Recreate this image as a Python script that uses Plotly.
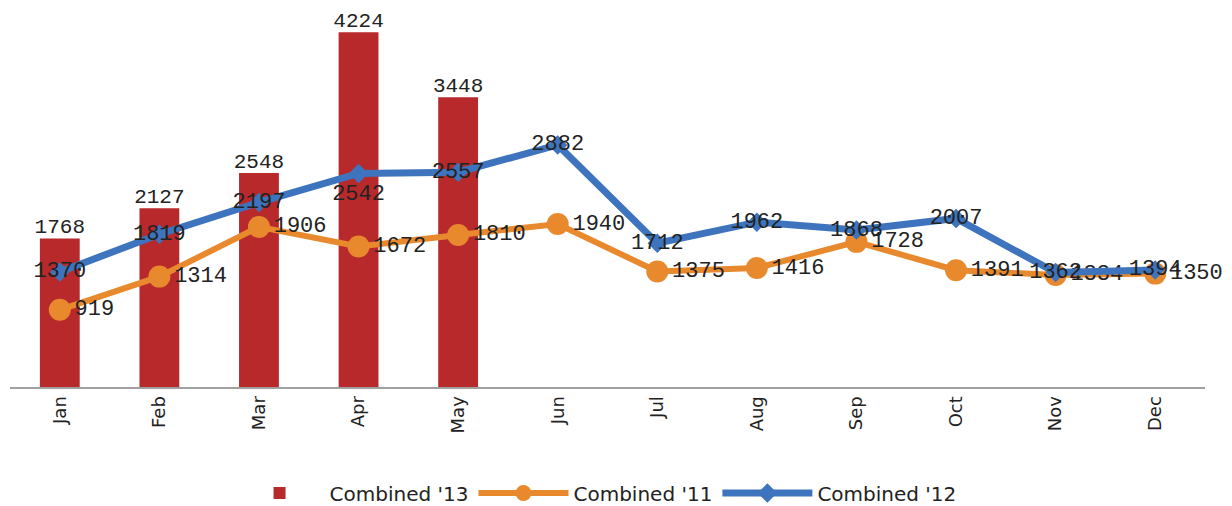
import plotly.graph_objects as go

months = ["Jan", "Feb", "Mar", "Apr", "May", "Jun", "Jul", "Aug", "Sep", "Oct", "Nov", "Dec"]
combined_13 = [1768, 2127, 2548, 4224, 3448]
combined_11 = [919, 1314, 1906, 1672, 1810, 1940, 1375, 1416, 1728, 1391, 1334, 1350]
combined_12 = [1370, 1819, 2197, 2542, 2557, 2882, 1712, 1962, 1868, 2007, 1362, 1394]

label_font = dict(family="Liberation Mono", size=22, color="#222222")
bar_label_font = dict(family="Liberation Mono", size=21, color="#222222")

fig = go.Figure()
fig.add_trace(go.Bar(
    x=months[:len(combined_13)], y=combined_13, name="Combined '13",
    marker=dict(color="#B8292B", line=dict(width=0)),
    width=0.4,
))
fig.add_trace(go.Scatter(
    x=months, y=combined_11, name="Combined '11", mode="lines+markers+text",
    line=dict(color="#E8892E", width=6),
    marker=dict(color="#E8892E", size=22, symbol="circle"),
    text=[str(v) for v in combined_11], textposition="middle right",
    textfont=label_font, cliponaxis=False,
))
blue_pos = ["middle center"] * len(combined_12)
blue_pos[3] = "bottom center"
fig.add_trace(go.Scatter(
    x=months, y=combined_12, name="Combined '12", mode="lines+markers+text",
    line=dict(color="#3D74BD", width=7),
    marker=dict(color="#3D74BD", size=15, symbol="diamond"),
    text=[str(v) for v in combined_12], textposition=blue_pos,
    textfont=label_font, cliponaxis=False,
))
# bar value labels above each bar
fig.add_trace(go.Scatter(
    x=months[:len(combined_13)], y=combined_13, mode="text",
    text=[str(v) for v in combined_13], textposition="top center",
    textfont=bar_label_font, cliponaxis=False, showlegend=False, hoverinfo="skip",
))

fig.update_layout(
    width=1224, height=498,
    margin=dict(l=2, r=27, t=1, b=119, autoexpand=False),
    plot_bgcolor="white", paper_bgcolor="white",
    showlegend=True,
    legend=dict(orientation="h", x=0.49, xanchor="center", yref="container",
                y=0.026, yanchor="middle",
                font=dict(family="DejaVu Sans", size=20, color="#222222"),
                traceorder="normal", itemwidth=90),
    xaxis=dict(categoryorder="array", categoryarray=months, range=[-0.5, 11.5],
               tickangle=-90, automargin=False,
               showline=True, linecolor="#A0A0A0", linewidth=2, ticks="",
               tickfont=dict(family="DejaVu Sans", size=18, color="#222222"),
               showgrid=False),
    yaxis=dict(range=[0, 4500], visible=False, showgrid=False, zeroline=False,
               automargin=False),
)

fig.write_html("out.html")
